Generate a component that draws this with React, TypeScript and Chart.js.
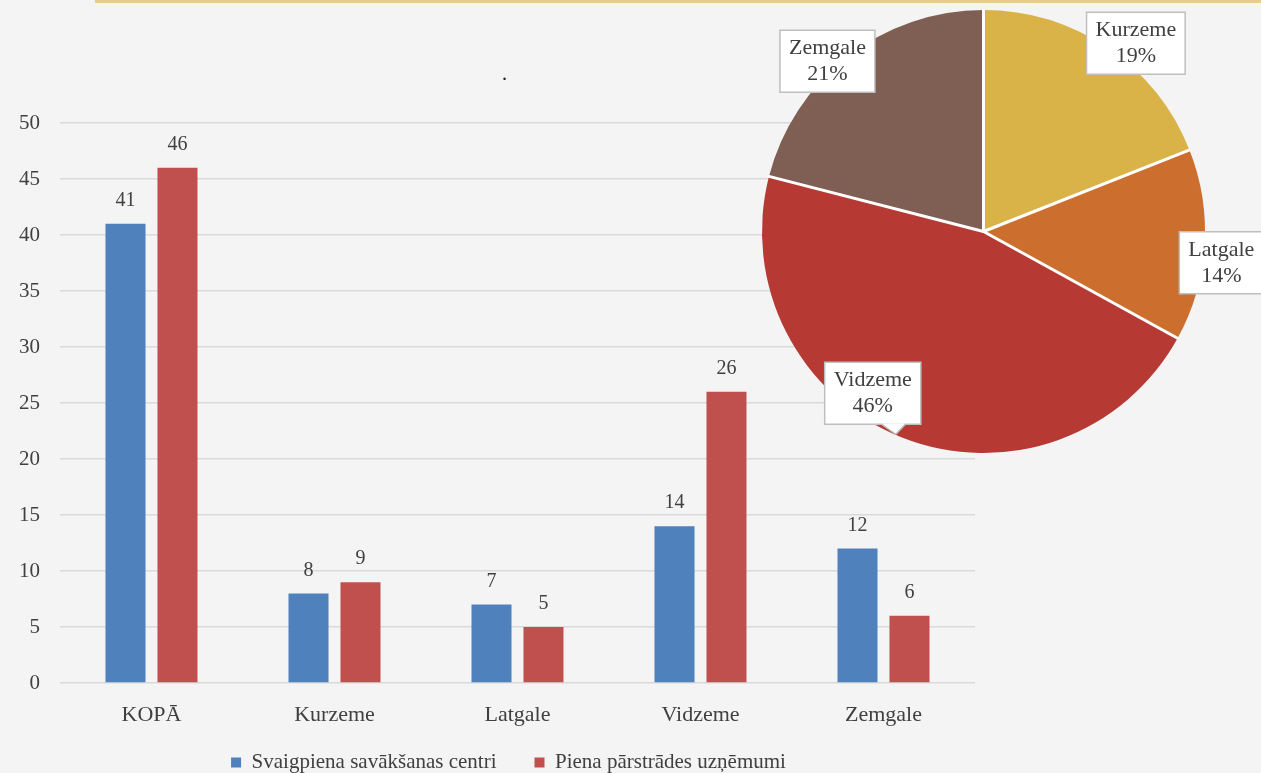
import React, { useEffect, useRef } from 'react';
import { Chart, registerables } from 'chart.js';

Chart.register(...registerables);

const categories = ['KOPĀ', 'Kurzeme', 'Latgale', 'Vidzeme', 'Zemgale'];
const seriesNames = ['Svaigpiena savākšanas centri', 'Piena pārstrādes uzņēmumi'];
const collectionCentres = [41, 8, 7, 14, 12];
const processingCompanies = [46, 9, 5, 26, 6];
const yMin = 0;
const yMax = 50;
const yStep = 5;

const pieRegions = ['Kurzeme', 'Latgale', 'Vidzeme', 'Zemgale'];
const pieShares = [19, 14, 46, 21];

const FONT = '"Liberation Serif", "Times New Roman", serif';
const TEXT = '#404040';
const barColors = ['#4F81BD', '#C0504D'];
const pieColors = ['#D9B348', '#CC6F2E', '#B63A33', '#7F5E54'];
// label placement: angle (deg clockwise from top) and distance as a fraction of the radius
const pieLabelLayout = [
  { angle: 39, dist: 1.093, callout: false },
  { angle: 97.5, dist: 1.083, callout: false },
  { angle: 214.4, dist: 0.885, callout: true },
  { angle: 317.5, dist: 1.043, callout: false },
];

const barLabelPlugin = {
  id: 'barLabels',
  afterLayout(chart: any) {
    const lg = chart.legend;
    if (lg) {
      lg.top -= 20;
      lg.bottom -= 20;
      lg.left -= 9;
      lg.right -= 9;
    }
  },
  afterDatasetsDraw(chart: any) {
    const ctx = chart.ctx;
    ctx.save();
    ctx.font = `20px ${FONT}`;
    ctx.fillStyle = TEXT;
    ctx.textAlign = 'center';
    ctx.textBaseline = 'middle';
    chart.data.datasets.forEach((ds: any, di: number) => {
      const meta = chart.getDatasetMeta(di);
      meta.data.forEach((bar: any, i: number) => {
        ctx.fillText(String(ds.data[i]), bar.x, bar.y - 23);
      });
    });
    ctx.restore();
  },
};

const pieLabelPlugin = {
  id: 'pieLabels',
  afterDatasetsDraw(chart: any) {
    const ctx = chart.ctx;
    const meta = chart.getDatasetMeta(0);
    const first = meta.data[0];
    const cx = first.x;
    const cy = first.y;
    const r = first.outerRadius;
    ctx.save();
    // white separators between slices
    ctx.strokeStyle = '#FFFFFF';
    ctx.lineWidth = 3;
    ctx.lineCap = 'butt';
    meta.data.forEach((arc: any) => {
      const a = arc.startAngle;
      ctx.beginPath();
      ctx.moveTo(cx, cy);
      ctx.lineTo(cx + Math.cos(a) * (r + 1), cy + Math.sin(a) * (r + 1));
      ctx.stroke();
    });
    ctx.font = `22px ${FONT}`;
    const values = chart.data.datasets[0].data;
    chart.data.labels.forEach((lab: string, i: number) => {
      const lay = pieLabelLayout[i];
      const a = ((lay.angle - 90) * Math.PI) / 180;
      const x = cx + Math.cos(a) * r * lay.dist;
      const y = cy + Math.sin(a) * r * lay.dist;
      const l2 = `${values[i]}%`;
      const w = Math.max(ctx.measureText(lab).width, ctx.measureText(l2).width) + 18;
      const h = 62;
      const left = x - w / 2;
      const top = y - h / 2;
      ctx.fillStyle = '#FFFFFF';
      ctx.strokeStyle = '#BFBFBF';
      ctx.lineWidth = 1.5;
      ctx.beginPath();
      ctx.rect(left, top, w, h);
      ctx.fill();
      ctx.stroke();
      if (lay.callout) {
        ctx.beginPath();
        ctx.moveTo(left + w * 0.59, top + h - 0.75);
        ctx.lineTo(left + w * 0.74, top + h + 10);
        ctx.lineTo(left + w * 0.84, top + h - 0.75);
        ctx.closePath();
        ctx.fill();
        ctx.beginPath();
        ctx.moveTo(left + w * 0.59, top + h);
        ctx.lineTo(left + w * 0.74, top + h + 10);
        ctx.lineTo(left + w * 0.84, top + h);
        ctx.stroke();
      }
      ctx.fillStyle = TEXT;
      ctx.textAlign = 'center';
      ctx.textBaseline = 'middle';
      ctx.fillText(lab, x, y - 13);
      ctx.fillText(l2, x, y + 13);
    });
    ctx.restore();
  },
};

export default function App() {
  const barRef = useRef<HTMLCanvasElement>(null);
  const pieRef = useRef<HTMLCanvasElement>(null);

  useEffect(() => {
    document.body.style.margin = '0';
    document.body.style.overflow = 'hidden';
    const bar = new Chart(barRef.current as HTMLCanvasElement, {
      type: 'bar',
      data: {
        labels: categories,
        datasets: [
          {
            label: seriesNames[0],
            data: collectionCentres,
            backgroundColor: barColors[0],
            categoryPercentage: 0.568,
            barPercentage: 0.77,
          },
          {
            label: seriesNames[1],
            data: processingCompanies,
            backgroundColor: barColors[1],
            categoryPercentage: 0.568,
            barPercentage: 0.77,
          },
        ],
      },
      options: {
        responsive: false,
        animation: false,
        devicePixelRatio: 1,
        layout: { padding: { top: 123, right: 286, left: 0, bottom: 0 } },
        scales: {
          x: {
            grid: { display: false },
            border: { display: false },
            ticks: { color: TEXT, font: { family: FONT, size: 22 }, padding: 11 },
            afterFit: (s: any) => {
              s.height = 51;
            },
          },
          y: {
            min: yMin,
            max: yMax,
            ticks: { stepSize: yStep, color: TEXT, font: { family: FONT, size: 21 }, padding: 20 },
            grid: { color: '#D9D9D9', lineWidth: 1.5, drawTicks: false },
            border: { display: false },
            afterFit: (s: any) => {
              s.width = 60;
            },
          },
        },
        plugins: {
          legend: {
            position: 'bottom',
            fullSize: false,
            labels: {
              boxWidth: 10,
              boxHeight: 10,
              padding: 38,
              color: TEXT,
              font: { family: FONT, size: 21 },
            },
          },
          tooltip: { enabled: false },
        },
      } as any,
      plugins: [barLabelPlugin],
    });

    const pie = new Chart(pieRef.current as HTMLCanvasElement, {
      type: 'pie',
      data: {
        labels: pieRegions,
        datasets: [
          {
            data: pieShares,
            backgroundColor: pieColors,
            borderWidth: 0,
          },
        ],
      },
      options: {
        responsive: false,
        animation: false,
        devicePixelRatio: 1,
        layout: { padding: { left: 762, right: 56, top: 10, bottom: 320 } },
        plugins: { legend: { display: false }, tooltip: { enabled: false } },
      } as any,
      plugins: [pieLabelPlugin],
    });

    return () => {
      bar.destroy();
      pie.destroy();
    };
  }, []);

  return (
    <div
      style={{
        position: 'relative',
        width: 1261,
        height: 773,
        overflow: 'hidden',
        background: '#F4F4F4',
        fontFamily: FONT,
      }}
    >
      <div style={{ position: 'absolute', left: 95, top: 0, width: 1166, height: 3, background: '#E8CC8C' }} />
      <div style={{ position: 'absolute', left: 502, top: 63, fontSize: 20, color: '#202020', lineHeight: '20px' }}>.</div>
      <canvas ref={barRef} width={1261} height={803} style={{ position: 'absolute', left: 0, top: 0 }} />
      <canvas
        ref={pieRef}
        width={1261}
        height={773}
        style={{ position: 'absolute', left: 0, top: 0, pointerEvents: 'none' }}
      />
    </div>
  );
}
